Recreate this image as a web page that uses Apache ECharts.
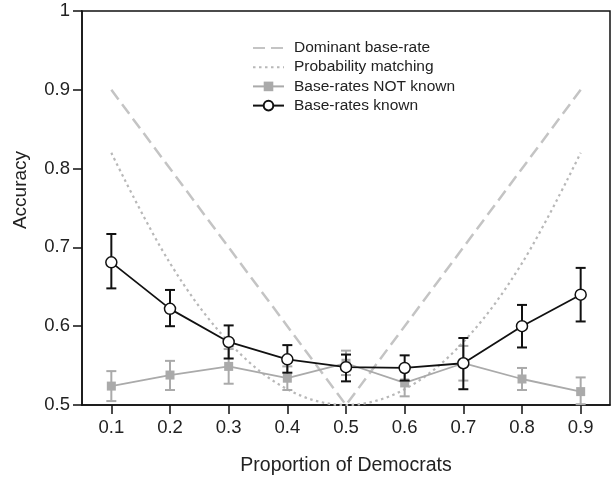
<!DOCTYPE html>
<html>
<head>
<meta charset="utf-8">
<script src="https://cdn.jsdelivr.net/npm/echarts@6/dist/echarts.min.js"></script>
<style>html,body{margin:0;padding:0;background:#fff}#c{width:611px;height:481px}</style>
</head>
<body>
<div id="c"></div>
<script>
const proportions = [0.1, 0.2, 0.3, 0.4, 0.5, 0.6, 0.7, 0.8, 0.9];
const yTicks = [0.5, 0.6, 0.7, 0.8, 0.9, 1];
const dominantX = [0.1, 0.5, 0.9];
const dominantY = [0.9, 0.5, 0.9];
const matchingY = [0.82, 0.68, 0.58, 0.52, 0.50, 0.52, 0.58, 0.68, 0.82];
const notKnownMean = [0.524, 0.538, 0.549, 0.534, 0.553, 0.528, 0.553, 0.533, 0.517];
const notKnownLow  = [0.505, 0.519, 0.527, 0.519, 0.538, 0.511, 0.531, 0.519, 0.501];
const notKnownHigh = [0.543, 0.556, 0.571, 0.549, 0.569, 0.545, 0.575, 0.547, 0.535];
const knownMean = [0.681, 0.622, 0.580, 0.558, 0.548, 0.547, 0.553, 0.600, 0.640];
const knownLow  = [0.648, 0.600, 0.559, 0.541, 0.530, 0.531, 0.520, 0.573, 0.606];
const knownHigh = [0.717, 0.646, 0.601, 0.576, 0.564, 0.563, 0.585, 0.627, 0.674];
const legendNames = ['Dominant base-rate', 'Probability matching', 'Base-rates NOT known', 'Base-rates known'];

const FONT = '"Liberation Sans", Arial, Helvetica, sans-serif';
const chart = echarts.init(document.getElementById('c'), null, {renderer: 'canvas'});

function errBars(low, high, color, z) {
  return {
    type: 'custom',
    silent: true,
    z: z,
    data: proportions.map((p, i) => [p, low[i], high[i]]),
    renderItem: function (params, api) {
      const x = api.value(0);
      const lo = api.coord([x, api.value(1)]);
      const hi = api.coord([x, api.value(2)]);
      const w = 5;
      const style = {stroke: color, lineWidth: 2};
      return {
        type: 'group',
        children: [
          {type: 'line', shape: {x1: lo[0], y1: lo[1], x2: hi[0], y2: hi[1]}, style: style},
          {type: 'line', shape: {x1: lo[0] - w, y1: lo[1], x2: lo[0] + w, y2: lo[1]}, style: style},
          {type: 'line', shape: {x1: hi[0] - w, y1: hi[1], x2: hi[0] + w, y2: hi[1]}, style: style}
        ]
      };
    }
  };
}

chart.setOption({
  animation: false,
  backgroundColor: '#fff',
  textStyle: {fontFamily: FONT},
  grid: {left: 82, right: 1, top: 11, bottom: 74, show: true, borderColor: '#111', borderWidth: 1.5, backgroundColor: 'transparent'},
  legend: {
    data: [
      {name: legendNames[0], itemStyle: {opacity: 0}},
      {name: legendNames[1], itemStyle: {opacity: 0}},
      {name: legendNames[2]},
      {name: legendNames[3]}
    ],
    orient: 'vertical',
    left: 247,
    top: 35,
    itemWidth: 31,
    itemHeight: 12,
    itemGap: 3.2,
    textStyle: {fontFamily: FONT, fontSize: 15.5, color: '#222', padding: [0, 0, 0, 5]},
    selectedMode: false
  },
  xAxis: {
    type: 'value',
    min: 0.05,
    max: 0.95,
    name: 'Proportion of Democrats',
    nameLocation: 'middle',
    nameGap: 51,
    nameTextStyle: {fontFamily: FONT, fontSize: 19.5, color: '#222'},
    axisLine: {show: true, lineStyle: {color: '#111', width: 1.5}},
    axisTick: {show: true, length: 9, lineStyle: {color: '#111', width: 1.5}, customValues: proportions},
    axisLabel: {fontFamily: FONT, fontSize: 18.5, color: '#222', margin: 13, customValues: proportions, formatter: v => String(Math.round(v * 10) / 10)},
    splitLine: {show: false}
  },
  yAxis: {
    type: 'value',
    min: 0.5,
    max: 1,
    interval: 0.1,
    name: 'Accuracy',
    nameLocation: 'middle',
    nameGap: 52,
    nameTextStyle: {fontFamily: FONT, fontSize: 19, color: '#222', padding: [0, 0, 0, 36]},
    axisLine: {show: true, lineStyle: {color: '#111', width: 1.5}},
    axisTick: {show: true, length: 9, lineStyle: {color: '#111', width: 1.5}},
    axisLabel: {fontFamily: FONT, fontSize: 18.5, color: '#222', margin: 12, formatter: v => String(Math.round(v * 10) / 10)},
    splitLine: {show: false}
  },
  series: [
    {
      name: legendNames[0],
      type: 'line',
      z: 1,
      data: dominantX.map((x, i) => [x, dominantY[i]]),
      symbol: 'none',
      lineStyle: {color: '#c4c4c4', width: 2.5, type: [12, 6]},
      itemStyle: {color: '#c4c4c4'}
    },
    {
      name: legendNames[1],
      type: 'line',
      z: 1,
      smooth: 0.35,
      data: proportions.map((x, i) => [x, matchingY[i]]),
      symbol: 'none',
      lineStyle: {color: '#b8b8b8', width: 2.2, type: [2.5, 3.5]},
      itemStyle: {color: '#b8b8b8'}
    },
    errBars(notKnownLow, notKnownHigh, '#aaaaaa', 2),
    {
      name: legendNames[2],
      type: 'line',
      z: 3,
      data: proportions.map((x, i) => [x, notKnownMean[i]]),
      symbol: 'rect',
      symbolSize: 9,
      lineStyle: {color: '#aaaaaa', width: 1.8},
      itemStyle: {color: '#aaaaaa', borderWidth: 0}
    },
    errBars(knownLow, knownHigh, '#111111', 4),
    {
      name: legendNames[3],
      type: 'line',
      z: 5,
      data: proportions.map((x, i) => [x, knownMean[i]]),
      symbol: 'circle',
      symbolSize: 11,
      showAllSymbol: true,
      lineStyle: {color: '#111', width: 1.8},
      itemStyle: {color: '#fff', borderColor: '#111', borderWidth: 1.5}
    }
  ]
});
</script>
</body>
</html>
